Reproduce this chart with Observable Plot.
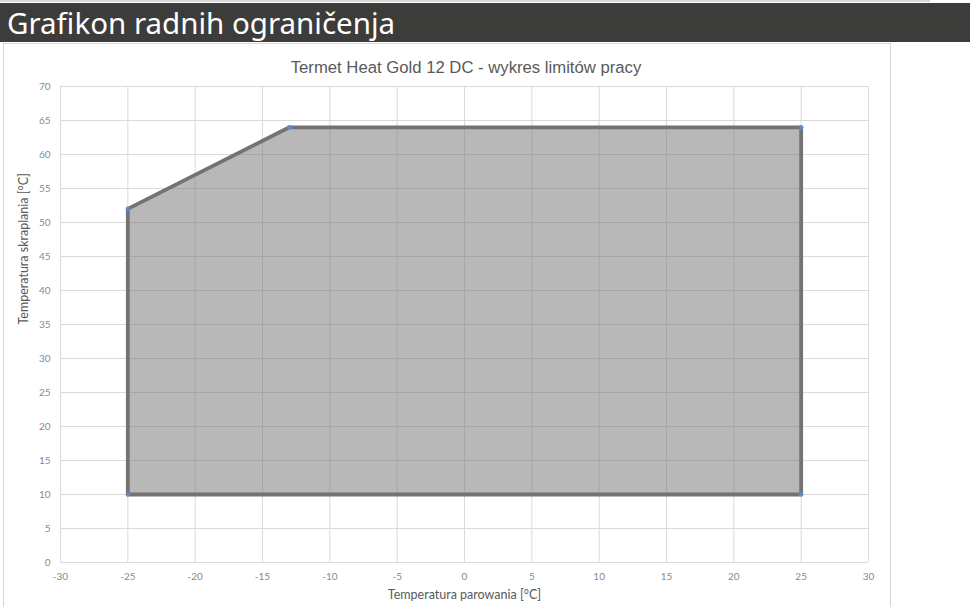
<!DOCTYPE html>
<html>
<head>
<meta charset="utf-8">
<script src="https://cdn.jsdelivr.net/npm/d3@7"></script>
<script src="https://cdn.jsdelivr.net/npm/@observablehq/plot@0.6"></script>
<style>
  html, body { margin: 0; padding: 0; background: #fff; width: 970px; height: 607px; overflow: hidden; }
  #topline { position: absolute; left: 0; top: 0; width: 930px; height: 2px; background: #d8d8d8; }
  #header { position: absolute; left: 0; top: 3px; width: 970px; height: 39px; background: #3c3c3a; color: #fff;
            font-family: "Noto Sans", sans-serif; font-size: 29.5px; line-height: 40px; padding-left: 7px; box-sizing: border-box; }
  #frame { position: absolute; left: 3px; top: 43px; width: 888px; height: 580px; border: 1px solid #d6d6d6; box-sizing: border-box; }
  #ctitle { position: absolute; left: 0; width: 932px; top: 58px; text-align: center; font-family: "Liberation Sans", Arial, sans-serif;
            font-size: 16.7px; color: #595959; }
  #chart { position: absolute; left: 0; top: 44px; }
</style>
</head>
<body>
<div id="topline"></div>
<div id="header">Grafikon radnih ograničenja</div>
<div id="frame"></div>
<div id="chart"></div>
<div id="ctitle">Termet Heat Gold 12 DC - wykres limitów pracy</div>
<script>
// Operating envelope vertices (evaporation temp °C, condensation temp °C)
const evap = [-25, -25, -13, 25, 25];
const cond = [10, 52, 64, 64, 10];
const xTicks = [-30, -25, -20, -15, -10, -5, 0, 5, 10, 15, 20, 25, 30];
const yTicks = [0, 5, 10, 15, 20, 25, 30, 35, 40, 45, 50, 55, 60, 65, 70];
const xLabel = "Temperatura parowania [°C]";
const yLabel = "Temperatura skraplania [°C]";

const pts = evap.map((x, i) => ({x, y: cond[i]}));
const closed = [...pts, pts[0]];
// top boundary for the fill (area between bottom edge and top edge)
const topEdge = pts.slice(1, 4).map((p) => ({x: p.x, y1: cond[0], y2: p.y}));

const font = "Lato, 'Open Sans', sans-serif";
const plot = Plot.plot({
  width: 890,
  height: 563,
  marginLeft: 60,
  marginRight: 22,
  marginTop: 42,
  marginBottom: 45,
  style: { fontFamily: font, background: "transparent", overflow: "visible" },
  x: { domain: [-30, 30] },
  y: { domain: [0, 70] },
  marks: [
    Plot.ruleX(xTicks, { stroke: "#dadada", strokeWidth: 1 }),
    Plot.ruleY(yTicks, { stroke: "#dadada", strokeWidth: 1 }),
    Plot.areaY(topEdge, { x: "x", y1: "y1", y2: "y2", fill: "#747274", fillOpacity: 0.5 }),
    Plot.line(closed, { x: "x", y: "y", stroke: "#737373", strokeWidth: 3.8, strokeLinejoin: "miter" }),
    Plot.dot(pts, { x: "x", y: "y", r: 2.3, fill: "#5b8fd0", stroke: "none", fillOpacity: 0.85 }),
    Plot.axisX({ ticks: xTicks, tickSize: 0, tickPadding: 10, label: null, fontSize: 10, color: "#8a8a8a",
                 tickFormat: d => `${d}` }),
    Plot.axisY({ ticks: yTicks, tickSize: 0, tickPadding: 10, label: null, fontSize: 10, color: "#8a8a8a" }),
    Plot.text([xLabel], { frameAnchor: "bottom", dy: 36, fontSize: 12.5, fill: "#595959" }),
    Plot.text([yLabel], { frameAnchor: "left", dx: -37, rotate: -90, fontSize: 12.5, fill: "#595959" })
  ]
});
document.getElementById("chart").appendChild(plot);
</script>
</body>
</html>
